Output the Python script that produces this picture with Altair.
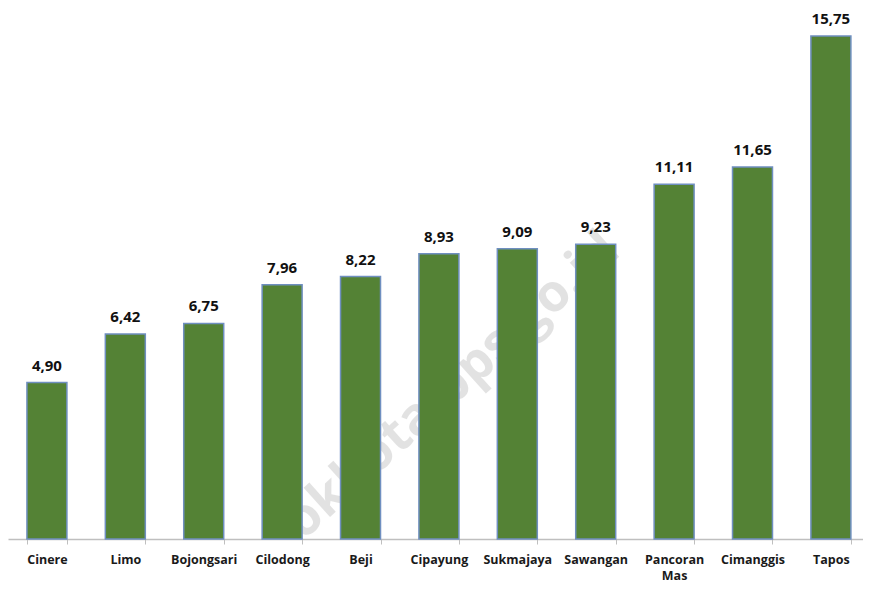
import altair as alt
import pandas as pd

kecamatan = ["Cinere", "Limo", "Bojongsari", "Cilodong", "Beji", "Cipayung",
             "Sukmajaya", "Sawangan", "Pancoran Mas", "Cimanggis", "Tapos"]
nilai = [4.90, 6.42, 6.75, 7.96, 8.22, 8.93, 9.09, 9.23, 11.11, 11.65, 15.75]
label = [f"{v:.2f}".replace(".", ",") for v in nilai]

df = pd.DataFrame({"kec": kecamatan, "nilai": nilai, "label": label})

x = alt.X("kec:N", sort=kecamatan, title=None,
          scale=alt.Scale(paddingInner=0.49, paddingOuter=0.198, align=0.61, round=False),
          axis=alt.Axis(labelAngle=0, labelFont="Open Sans", labelFontWeight="bold",
                        labelFontSize=12.5, labelColor="#1a1a1a", labelPadding=9,
                        labelLineHeight=16,
                        labelExpr="split(datum.label, ' ')",
                        domainColor="#bfbfbf", domainWidth=1.5,
                        tickColor="#bfbfbf", tickBand="extent", tickSize=5,
                        labelLimit=200))
y = alt.Y("nilai:Q", scale=alt.Scale(domain=[0, 16.44], nice=False), axis=None)

wm = alt.Chart(pd.DataFrame({"t": ["depokkota.bps.go.id"]})).mark_text(
    font="Open Sans", fontWeight="bold", fontSize=52, color="#000000", opacity=0.11,
    angle=318, clip=True).encode(x=alt.value(408), y=alt.value(404), text="t:N")

bars = alt.Chart(df).mark_bar(color="#548235", stroke="#6f8fc0", strokeWidth=1.5).encode(x=x, y=y)
text = alt.Chart(df).mark_text(dy=-17, font="Open Sans", fontWeight="bold", fontSize=15,
                               color="#111111").encode(x=x, y=y, text="label:N")

chart = (wm + bars + text).properties(
    width=855, height=525,
    padding={"top": 4, "left": 0, "right": 0, "bottom": 0},
).configure_view(stroke=None)
chart.save("out.html", embed_options={"renderer": "svg", "actions": False})
